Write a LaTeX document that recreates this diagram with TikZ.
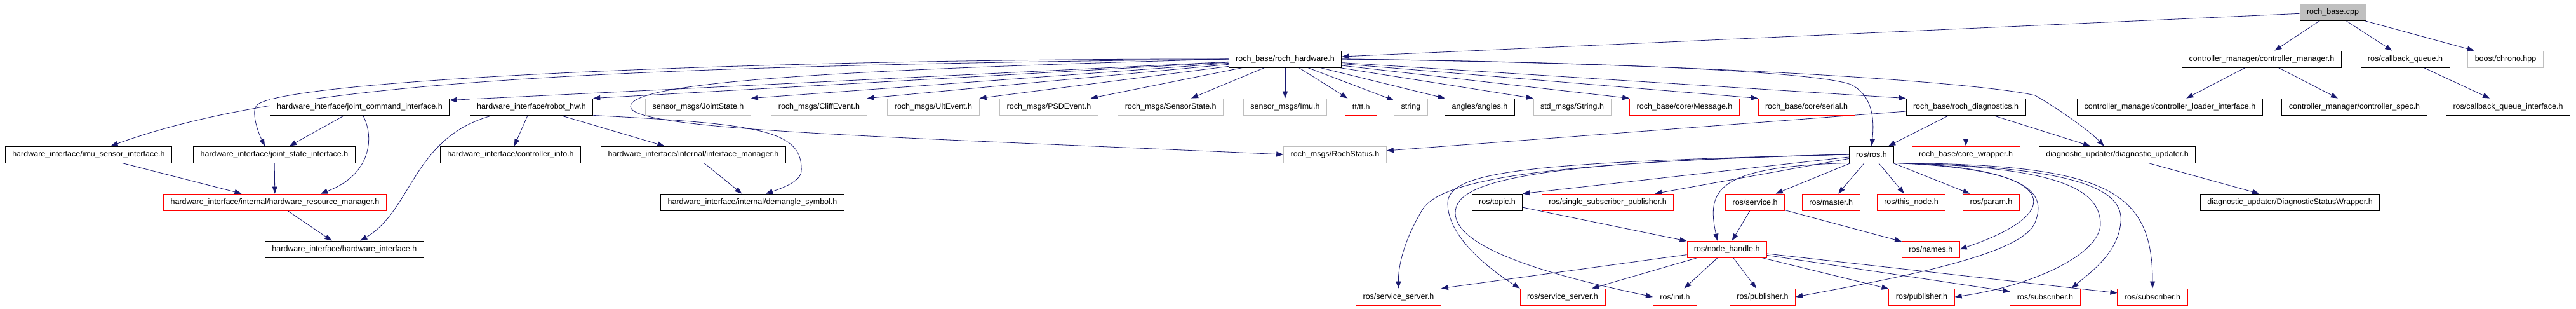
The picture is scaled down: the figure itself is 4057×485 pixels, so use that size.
\documentclass[tikz,border=0pt]{standalone}
\usepackage{fontspec}
\setmainfont{Liberation Sans}
\usetikzlibrary{arrows.meta}
\usetikzlibrary{backgrounds}
\tikzset{>={Triangle[length=11pt,width=8pt]}}
\definecolor{edgeblue}{HTML}{191970}
\definecolor{undoc}{HTML}{BFBFBF}
\tikzset{hdr/.style={draw=black, line width=0.9pt, fill=white, minimum height=26pt,
                inner xsep=11pt, inner ysep=0pt, font=\fontsize{12.5}{14}\selectfont},
        hdrred/.style={hdr, draw=red},
        hdrgray/.style={hdr, draw=undoc},
        hdrroot/.style={hdr, fill=undoc},
        incl/.style={->, color=edgeblue, line width=0.8pt}}

\begin{document}
\begin{tikzpicture}[x=1pt,y=-1pt]
        \useasboundingbox (0,0) rectangle (4057,485);
        \node[hdrroot] (cpp) at (3674,19) {roch\_base.cpp};
        % row 1
        \node[hdr] (hw) at (2024,93) {roch\_base/roch\_hardware.h};
        \node[hdr] (cmgr) at (3562,93) {controller\_manager/controller\_manager.h};
        \node[hdr] (cbq) at (3788,93) {ros/callback\_queue.h};
        \node[hdrgray] (chrono) at (3946,93) {boost/chrono.hpp};
        % row 2
        \node[hdr] (jcmd) at (566.5,168) {hardware\_interface/joint\_command\_interface.h};
        \node[hdr] (robothw) at (837,168) {hardware\_interface/robot\_hw.h};
        \node[hdrgray] (jsmsg) at (1099.5,168) {sensor\_msgs/JointState.h};
        \node[hdrgray] (cliff) at (1290,168) {roch\_msgs/CliffEvent.h};
        \node[hdrgray] (ult) at (1470,168) {roch\_msgs/UltEvent.h};
        \node[hdrgray] (psd) at (1652,168) {roch\_msgs/PSDEvent.h};
        \node[hdrgray] (sstate) at (1843.7,168) {roch\_msgs/SensorState.h};
        \node[hdrgray] (imu) at (2024,168) {sensor\_msgs/Imu.h};
        \node[hdrred] (tf) at (2143.7,168) {tf/tf.h};
        \node[hdrgray] (str) at (2222,168) {string};
        \node[hdr] (angles) at (2330.5,168) {angles/angles.h};
        \node[hdrgray] (stdstr) at (2476,168) {std\_msgs/String.h};
        \node[hdrred] (message) at (2653,168) {roch\_base/core/Message.h};
        \node[hdrred] (serial) at (2845,168) {roch\_base/core/serial.h};
        \node[hdr] (diag) at (3096,168) {roch\_base/roch\_diagnostics.h};
        \node[hdr] (cloader) at (3417.5,168) {controller\_manager/controller\_loader\_interface.h};
        \node[hdr] (cspec) at (3708,168) {controller\_manager/controller\_spec.h};
        \node[hdr] (cbqi) at (3950,168) {ros/callback\_queue\_interface.h};
        % row 3
        \node[hdr] (imuif) at (139.5,243) {hardware\_interface/imu\_sensor\_interface.h};
        \node[hdr] (jstate) at (432,243) {hardware\_interface/joint\_state\_interface.h};
        \node[hdr] (cinfo) at (804,243) {hardware\_interface/controller\_info.h};
        \node[hdr] (ifmgr) at (1092,243) {hardware\_interface/internal/interface\_manager.h};
        \node[hdrgray] (rstatus) at (2102.5,243) {roch\_msgs/RochStatus.h};
        \node[hdr] (ros) at (2947.5,243) {ros/ros.h};
        \node[hdrred] (corewrap) at (3096,243) {roch\_base/core\_wrapper.h};
        \node[hdr] (dupd) at (3334.6,243) {diagnostic\_updater/diagnostic\_updater.h};
        % row 4
        \node[hdrred] (resmgr) at (433,318) {hardware\_interface/internal/hardware\_resource\_manager.h};
        \node[hdr] (demangle) at (1185,318) {hardware\_interface/internal/demangle\_symbol.h};
        \node[hdr] (topic) at (2358,318) {ros/topic.h};
        \node[hdrred] (ssp) at (2532,318) {ros/single\_subscriber\_publisher.h};
        \node[hdrred] (service) at (2764,318) {ros/service.h};
        \node[hdrred] (master) at (2883.7,318) {ros/master.h};
        \node[hdrred] (thisnode) at (3010,318) {ros/this\_node.h};
        \node[hdrred] (param) at (3136,318) {ros/param.h};
        \node[hdr] (dsw) at (3606.6,318) {diagnostic\_updater/DiagnosticStatusWrapper.h};
        % row 5
        \node[hdr] (hwif) at (542.4,392) {hardware\_interface/hardware\_interface.h};
        \node[hdrred] (nh) at (2719.7,392) {ros/node\_handle.h};
        \node[hdrred] (names) at (3040.8,392) {ros/names.h};
        % row 6
        \node[hdrred] (ssa) at (2202.5,467) {ros/service\_server.h};
        \node[hdrred] (ssb) at (2461,467) {ros/service\_server.h};
        \node[hdrred] (init) at (2638,467) {ros/init.h};
        \node[hdrred] (puba) at (2776,467) {ros/publisher.h};
        \node[hdrred] (pubb) at (3026.5,467) {ros/publisher.h};
        \node[hdrred] (suba) at (3221,467) {ros/subscriber.h};
        \node[hdrred] (subb) at (3390,467) {ros/subscriber.h};

        \begin{scope}[on background layer]
        \draw[incl] (cpp) -- (hw);
        \draw[incl] (cpp) -- (cmgr);
        \draw[incl] (cpp) -- (cbq);
        \draw[incl] (cpp) -- (chrono);
        \draw[incl] (cmgr) -- (cloader);
        \draw[incl] (cmgr) -- (cspec);
        \draw[incl] (cbq) -- (cbqi);

        \draw[incl] (hw.west) .. controls (900,105) and (450,130) .. ([xshift=35pt]imuif.north);
        \draw[incl] (hw.west) .. controls (1200,92) and (450,125) .. (405,165) .. controls (395,174) and (405,205) .. ([xshift=-15pt]jstate.north);
        \draw[incl] (hw) -- ([yshift=-3pt]jcmd.north east);
        \draw[incl] (hw) -- (robothw.north east);
        \draw[incl] (hw) -- (jsmsg.north east);
        \draw[incl] (hw) -- (cliff.north east);
        \draw[incl] (hw) -- (ult.north east);
        \draw[incl] (hw) -- ([xshift=-12pt]psd.north east);
        \draw[incl] (hw) -- (sstate);
        \draw[incl] (hw) -- (imu);
        \draw[incl] (hw) -- (tf);
        \draw[incl] (hw) -- (str);
        \draw[incl] (hw) -- (angles);
        \draw[incl] (hw) -- (stdstr.north west);
        \draw[incl] (hw) -- (message.north west);
        \draw[incl] (hw) -- (serial.north west);
        \draw[incl] (hw) -- (diag.north west);
        \draw[incl] (hw.east) .. controls (2500,97) and (2860,112) .. (2915,133) .. controls (2950,150) and (2952,190) .. (ros.north);
        \draw[incl] (hw.east) .. controls (2700,100) and (3120,130) .. (3205,150) .. controls (3240,170) and (3290,205) .. ([xshift=-21pt]dupd.north);
        \draw[incl] (hw.west) .. controls (1300,110) and (990,130) .. (993,168) .. controls (996,205) and (1400,215) .. (rstatus.west);

        \draw[incl] ([xshift=-61pt]robothw.south) .. controls (650,215) and (650,330) .. ([xshift=25pt]hwif.north);
        \draw[incl] (robothw) -- (cinfo);
        \draw[incl] (robothw) -- (ifmgr);
        \draw[incl] (robothw.south east) .. controls (1200,195) and (1265,205) .. (1262,270) .. controls (1260,285) and (1235,295) .. ([xshift=21pt]demangle.north);
        \draw[incl] (ifmgr) -- (demangle);
        \draw[incl] (jcmd) -- (jstate);
        \draw[incl] ([xshift=5pt]jcmd.south) .. controls (590,215) and (585,275) .. ([xshift=72pt]resmgr.north);
        \draw[incl] (imuif) -- (resmgr);
        \draw[incl] (jstate) -- (resmgr);
        \draw[incl] (resmgr) -- (hwif);

        \draw[incl] (diag) -- (ros);
        \draw[incl] (diag) -- (corewrap);
        \draw[incl] (diag) -- (dupd);
        \draw[incl] (diag) -- (rstatus);
        \draw[incl] (dupd) -- (dsw);

        \draw[incl] (ros) -- (topic.north east);
        \draw[incl] (ros) -- (ssp);
        \draw[incl] (ros) -- (service);
        \draw[incl] (ros) -- (master);
        \draw[incl] (ros) -- (thisnode);
        \draw[incl] (ros) -- (param);
        \draw[incl] (ros.south west) .. controls (2700,262) and (2688,300) .. ([xshift=-15pt]nh.north);
        \draw[incl] (ros.west) .. controls (2450,255) and (2270,280) .. (2240,330) .. controls (2210,380) and (2202,420) .. (ssa.north);
        \draw[incl] (ros.west) .. controls (2400,255) and (2280,270) .. (2280,320) .. controls (2280,370) and (2340,420) .. (ssb.north west);
        \draw[incl] (ros.west) .. controls (2380,255) and (2292,290) .. (2292,335) .. controls (2292,400) and (2500,445) .. (init.west);
        \draw[incl] (ros.south east) .. controls (3230,262) and (3270,330) .. (names.east);
        \draw[incl] (ros.south east) .. controls (3190,265) and (3225,300) .. (3205,350) .. controls (3185,400) and (3000,435) .. (puba.east);
        \draw[incl] (ros.south east) .. controls (3250,262) and (3305,300) .. (3308,350) .. controls (3310,400) and (3200,450) .. (pubb.east);
        \draw[incl] (ros.south east) .. controls (3280,262) and (3345,300) .. (3340,350) .. controls (3335,400) and (3290,430) .. ([xshift=-14pt]suba.north east);
        \draw[incl] (ros.south east) .. controls (3320,258) and (3390,300) .. (subb.north);

        \draw[incl] (topic) -- (nh);
        \draw[incl] (service) -- (nh);
        \draw[incl] (service) -- (names);
        \draw[incl] (nh) -- (ssa.north east);
        \draw[incl] (nh) -- (ssb);
        \draw[incl] (nh) -- (init);
        \draw[incl] (nh) -- (puba);
        \draw[incl] (nh) -- (pubb);
        \draw[incl] (nh) -- (suba);
        \draw[incl] (nh) -- (subb);
        \end{scope}
      \end{tikzpicture}
\end{document}
